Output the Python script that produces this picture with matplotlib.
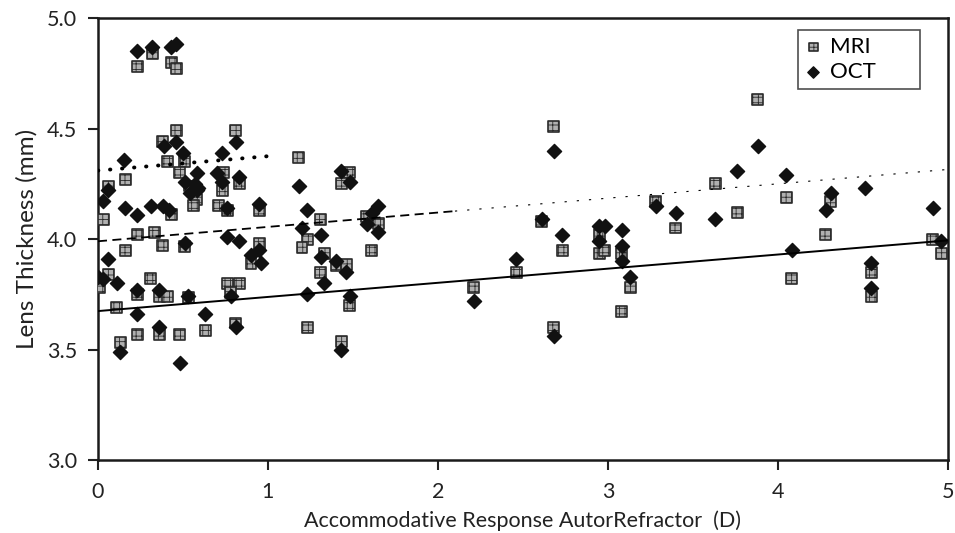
import numpy as np
import matplotlib
matplotlib.use("Agg")
import matplotlib.pyplot as plt

plt.rcParams['font.family'] = ['Lato', 'DejaVu Sans']
plt.rcParams['hatch.linewidth'] = 0.6

# MRI points (accommodative response D, lens thickness mm)
mri_x = [0.23, 0.32, 0.43, 0.46,
         0.46, 0.81, 0.38, 0.41, 0.51, 0.16, 0.48, 0.74, 0.73, 0.83, 0.06, 0.03,
         0.43, 0.71, 0.76, 0.95, 0.58, 0.56, 0.54,
         0.16, 0.23, 0.33, 0.38, 0.51, 0.95, 0.90,
         0.06, 0.01, 0.31, 0.23, 0.36, 0.41, 0.53, 0.76, 0.83, 0.78,
         0.11, 0.23, 0.36, 0.48, 0.63, 0.81, 0.13,
         1.18, 1.48, 1.43, 1.31, 1.23, 1.20, 1.58, 1.65, 1.61, 1.33, 1.40, 1.46,
         1.31, 1.48, 1.23, 1.43,
         2.61, 2.73, 2.46, 2.21, 2.68, 2.68, 2.95, 2.95, 2.98, 3.08, 3.13, 3.08,
         3.28, 3.40,
         3.88, 3.63, 3.76, 4.05, 4.08, 4.31, 4.28, 4.55, 4.55, 4.91, 4.96]
mri_y = [4.78, 4.84, 4.80, 4.77,
         4.49, 4.49, 4.44, 4.35, 4.35, 4.27, 4.30, 4.30, 4.22, 4.25, 4.24, 4.09,
         4.11, 4.15, 4.13, 4.13, 4.18, 4.15, 4.24,
         3.95, 4.02, 4.03, 3.97, 3.965, 3.98, 3.89,
         3.84, 3.78, 3.82, 3.75, 3.74, 3.74, 3.735, 3.80, 3.80, 3.76,
         3.69, 3.57, 3.57, 3.57, 3.585, 3.62, 3.53,
         4.37, 4.30, 4.25, 4.09, 4.00, 3.96, 4.10, 4.07, 3.95, 3.935, 3.88, 3.885,
         3.85, 3.70, 3.60, 3.535,
         4.08, 3.95, 3.85, 3.78, 3.60, 4.51, 4.02, 3.935, 3.95, 3.935, 3.78, 3.67,
         4.17, 4.05,
         4.63, 4.25, 4.12, 4.19, 3.82, 4.17, 4.02, 3.85, 3.74, 4.00, 3.935]

# OCT points
oct_x = [0.23, 0.32, 0.43, 0.46,
         0.81, 0.39, 0.46, 0.50, 0.155, 0.73, 0.70, 0.73, 0.83, 0.06, 0.03,
         0.58, 0.51, 0.57, 0.54, 0.59, 0.58,
         0.16, 0.23, 0.31, 0.38, 0.42, 0.76, 0.95,
         0.06, 0.51, 0.76, 0.83, 0.90, 0.96, 0.95,
         0.0, 0.03, 0.11, 0.23, 0.36, 0.53, 0.78,
         0.23, 0.63, 0.36, 0.81, 0.13, 0.48,
         1.18, 1.43, 1.48, 1.23, 1.20, 1.31, 1.65, 1.61, 1.58, 1.65, 1.31, 1.40,
         1.46, 1.33, 1.23, 1.48, 1.43,
         2.61, 2.73, 2.46, 2.21, 2.68, 2.68, 2.95, 2.98, 2.95, 3.08, 3.08, 3.08,
         3.13, 3.28, 3.40,
         3.88, 3.76, 3.63, 4.05, 4.08, 4.31, 4.28, 4.51, 4.55, 4.55, 4.91, 4.96]
oct_y = [4.85, 4.87, 4.87, 4.885,
         4.44, 4.42, 4.44, 4.39, 4.36, 4.39, 4.30, 4.26, 4.28, 4.22, 4.17,
         4.30, 4.26, 4.25, 4.21, 4.23, 4.22,
         4.14, 4.11, 4.15, 4.15, 4.13, 4.14, 4.16,
         3.91, 3.98, 4.01, 3.99, 3.93, 3.89, 3.95,
         3.83, 3.82, 3.80, 3.77, 3.77, 3.74, 3.74,
         3.66, 3.66, 3.60, 3.60, 3.49, 3.44,
         4.24, 4.31, 4.26, 4.13, 4.05, 4.02, 4.15, 4.12, 4.07, 4.03, 3.92, 3.90,
         3.85, 3.80, 3.75, 3.74, 3.50,
         4.09, 4.02, 3.91, 3.72, 3.56, 4.40, 4.06, 4.06, 3.99, 4.04, 3.97, 3.90,
         3.83, 4.15, 4.12,
         4.42, 4.31, 4.09, 4.29, 3.95, 4.21, 4.13, 4.23, 3.89, 3.78, 4.14, 3.99]

# trend lines: intercept, slope, x range
solid_fit = (3.674, 0.064, 0.0, 5.0)
dashed_fit = (3.99, 0.065, 0.0, 5.0)
dotted_fit = (4.31, 0.065, 0.0, 1.0)

fig = plt.figure(figsize=(9.55, 5.33), dpi=100)
ax = fig.add_axes([0.1026, 0.137, 0.890, 0.829])

ax.scatter(mri_x, mri_y, marker='s', s=62, facecolor='#b0b0b0',
           edgecolor='#2a2a2a', linewidth=1.2, hatch='+++', zorder=3, label='MRI')
ax.scatter(oct_x, oct_y, marker='D', s=52, color='#111111', zorder=4, label='OCT')

a, b, x0, x1 = solid_fit
xs = np.array([x0, x1])
ax.plot(xs, a + b * xs, color='black', lw=1.4, zorder=5)

a, b, x0, x1 = dashed_fit
xs = np.array([x0, 2.1])
ax.plot(xs, a + b * xs, color='black', lw=1.3, dashes=(5, 3), zorder=5)
xs = np.array([2.1, x1])
ax.plot(xs, a + b * xs, color='black', lw=0.8, dashes=(2, 9), zorder=5)

a, b, x0, x1 = dotted_fit
xs = np.array([x0, x1])
ax.plot(xs, a + b * xs, color='black', lw=2.8, dashes=(0.1, 3.0),
        dash_capstyle='round', zorder=5)

ax.set_xlim(0, 5)
ax.set_ylim(3.0, 5.0)
ax.set_xticks([0, 1, 2, 3, 4, 5])
ax.set_yticks([3.0, 3.5, 4.0, 4.5, 5.0])
ax.set_yticklabels(['3.0', '3.5', '4.0', '4.5', '5.0'])
ax.tick_params(direction='out', length=7, width=1.5, labelsize=15.5, colors='#222222')
ax.tick_params(axis='x', pad=9)
ax.tick_params(axis='y', pad=8)
for sp in ax.spines.values():
    sp.set_linewidth(1.8)
    sp.set_color('#1a1a1a')

ax.set_xlabel('Accommodative Response AutorRefractor  (D)', fontsize=15.5, color='#222222', labelpad=6)
ax.set_ylabel('Lens Thickness (mm)', fontsize=17.5, color='#222222', labelpad=7)

leg = ax.legend(loc='upper left', bbox_to_anchor=(0.8235, 0.5, 0.1435, 0.473),
                mode='expand', fontsize=16,
                frameon=True, fancybox=False, edgecolor='#222222', handletextpad=0.35,
                borderpad=0.3, labelspacing=0.25, handlelength=0.8, markerscale=0.8,
                borderaxespad=0)
leg.get_frame().set_linewidth(1.2)

fig.savefig('out.png', dpi=100)
